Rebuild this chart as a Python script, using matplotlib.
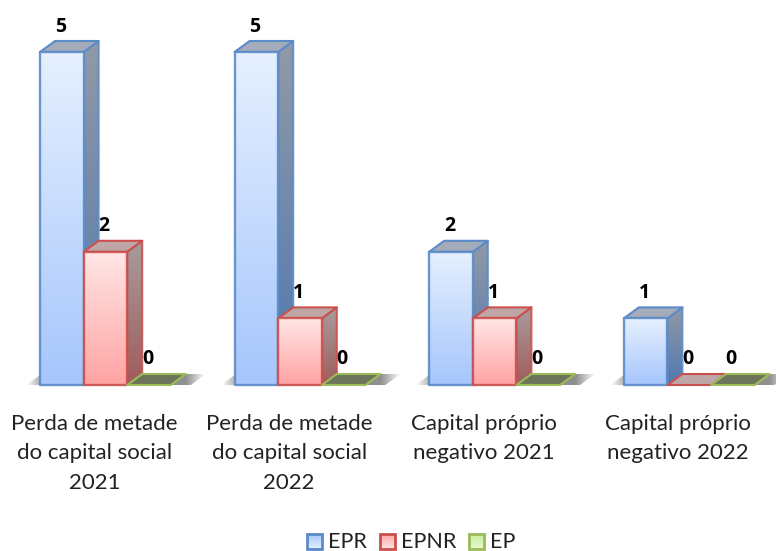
import numpy as np
from matplotlib import pyplot as plt
from matplotlib.colors import LinearSegmentedColormap, to_rgb
from matplotlib.patches import Polygon, Rectangle

categories = ["Perda de metade\ndo capital social\n2021", "Perda de metade\ndo capital social\n2022",
              "Capital próprio\nnegativo 2021", "Capital próprio\nnegativo 2022"]
series_names = ["EPR", "EPNR", "EP"]
epr = [5, 5, 2, 1]
epnr = [2, 1, 1, 0]
ep = [0, 0, 0, 0]

# edge, front top/bottom, side top/bottom, roof
styles = {
    "EPR": ("#5B8BC8", "#E6F0FF", "#A6C6FC", "#9299A6", "#4F78B0", "#A4ABBA"),
    "EPNR": ("#C9504D", "#FFE6E6", "#FFA3A3", "#A89C9C", "#A05C5C", "#BFA6A6"),
    "EP": ("#9BBB59", "#E8F8D0", "#C8EE9C", "#7D8A68", "#6E7A5A", "#6C755C"),
}

# pixel scale of the chart
px_group = 194.6
px_bar = 43.6
px_value = 66.6
x0_px = 40.0
base_px = 385.0
W, H = 776, 551
dx = 15.0 / px_group
dy = 11.0 / px_value
bar_w = px_bar / px_group

plt.rcParams['font.family'] = ['Lato', 'DejaVu Sans']
fig = plt.figure(figsize=(W / 100, H / 100), dpi=100)
ax = fig.add_axes([0, 0, 1, 1])
ax.set_xlim(-x0_px / px_group, (W - x0_px) / px_group)
ax.set_ylim(-(H - base_px) / px_value, base_px / px_value)
ax.axis("off")


def gradient(points, c_top, c_bottom, axis=ax, zorder=2):
    # vertical gradient clipped to a polygon
    pts = np.array(points)
    cmap = LinearSegmentedColormap.from_list("g", [c_top, c_bottom])
    im = axis.imshow(np.linspace(0, 1, 128).reshape(-1, 1), cmap=cmap, aspect="auto",
                     extent=[pts[:, 0].min(), pts[:, 0].max(), pts[:, 1].min(), pts[:, 1].max()],
                     origin="upper", zorder=zorder, interpolation="bilinear")
    clip = Polygon(pts, closed=True, transform=axis.transData, fill=False, edgecolor="none")
    axis.add_patch(clip)
    im.set_clip_path(clip)


def face(points, edge, zorder, lw=1.5):
    ax.add_patch(Polygon(points, closed=True, fill=False, edgecolor=edge, linewidth=lw,
                         joinstyle="round", zorder=zorder, alpha=0.9))


def floor_shadow(left, right):
    # soft dark strip on the floor, fades out on both ends
    n = 200
    t = np.linspace(0, 1, n)
    a = np.clip(np.minimum(t, 1 - t) / 0.11, 0, 1) * 0.62
    rgba = np.ones((1, n, 4))
    rgba[0, :, :3] = to_rgb("#4A4A4A")
    rgba[0, :, 3] = a
    im = ax.imshow(rgba, aspect="auto", extent=[left, right, 0, dy], zorder=1, interpolation="bilinear")
    clip = Polygon([(left, 0), (right - dx, 0), (right, dy), (left + dx, dy)], closed=True,
                   transform=ax.transData, fill=False, edgecolor="none")
    ax.add_patch(clip)
    im.set_clip_path(clip)


for i, label in enumerate(categories):
    floor_shadow(i - 0.07, i + 3 * bar_w + 0.18)
    for j, (name, values) in enumerate(zip(series_names, [epr, epnr, ep])):
        v = values[i]
        edge, f_top, f_bot, s_top, s_bot, roof = styles[name]
        l = i + j * bar_w
        r = l + bar_w
        z = 3 + j * 3
        if v > 0:
            side = [(r, 0), (r + dx, dy), (r + dx, v + dy), (r, v)]
            gradient(side, s_top, s_bot, zorder=z)
            face(side, edge, z + 0.5)
        top = [(l, v), (r, v), (r + dx, v + dy), (l + dx, v + dy)]
        ax.add_patch(Polygon(top, closed=True, facecolor=roof, edgecolor=edge, linewidth=1.5,
                             joinstyle="round", zorder=z + 0.5))
        if v > 0:
            front = [(l, 0), (r, 0), (r, v), (l, v)]
            gradient(front, f_top, f_bot, zorder=z + 1)
            face(front, edge, z + 1.5, lw=1.7)
        ax.text((l + r) / 2 - 1.5 / px_group, v + 25.5 / px_value, str(v), ha="center", va="center",
                fontsize=14, fontweight="bold", family=["Open Sans", "DejaVu Sans"], color="black", zorder=20)
    ax.text(i + 54.5 / px_group, -29 / px_value, label, ha="center", va="top",
            fontsize=16, color="#222222", linespacing=1.59, zorder=20)

# legend, drawn in pixels on an overlay
lax = fig.add_axes([0, 0, 1, 1], facecolor="none")
lax.set_xlim(0, W)
lax.set_ylim(H, 0)
lax.axis("off")
legend_x = [307, 380, 469]
for name, x in zip(series_names, legend_x):
    edge, f_top, f_bot = styles[name][:3]
    pts = [(x, 534), (x + 15, 534), (x + 15, 549), (x, 549)]
    gradient(pts, f_top, f_bot, axis=lax)
    lax.set_xlim(0, W)
    lax.set_ylim(H, 0)
    lax.add_patch(Rectangle((x, 534), 15, 15, fill=False, edgecolor=edge, linewidth=2, zorder=3))
    lax.text(x + 21, 541.5, name, ha="left", va="center", fontsize=15.5, color="#222222")

ax.set_xlim(-x0_px / px_group, (W - x0_px) / px_group)
ax.set_ylim(-(H - base_px) / px_value, base_px / px_value)
fig.savefig("out.png", dpi=100, facecolor="white")
